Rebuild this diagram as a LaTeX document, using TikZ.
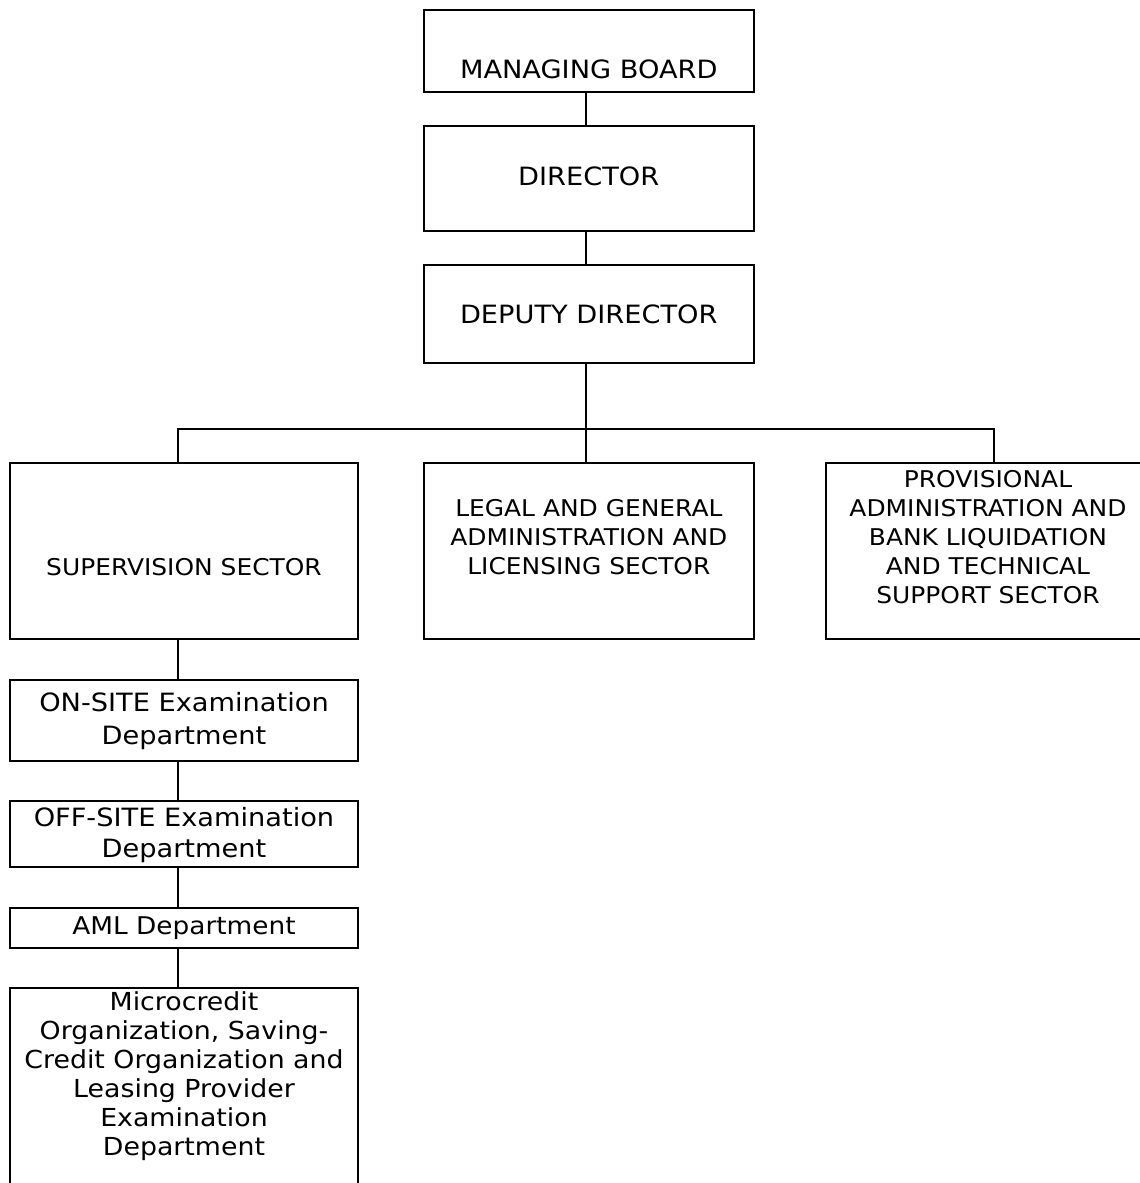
\documentclass[tikz,border=0pt]{standalone}
\usepackage{fontspec}
\setmainfont{DejaVu Sans}[FakeStretch=1.08]
\begin{document}
\begin{tikzpicture}[x=0.75pt,y=-0.75pt,
  box/.style={draw=black,line width=1.5pt,rectangle,inner sep=0pt},
  txt/.style={inner sep=0pt,align=center},
  toptxt/.style={txt,font=\fontsize{18.9}{22}\selectfont},
  sectxt/.style={txt,font=\fontsize{17.3}{21.75}\selectfont},
  deptxt/.style={txt,font=\fontsize{18.6}{21.75}\selectfont},
  link/.style={draw=black,line width=1.5pt}]
\useasboundingbox (0,0) rectangle (1140,1183);
% boxes (centre, size)
\node[box,minimum width=330.5*0.75pt,minimum height=82*0.75pt] (mb) at (588.75,51) {};
\node[box,minimum width=330.5*0.75pt,minimum height=105*0.75pt] (dir) at (588.75,178.5) {};
\node[box,minimum width=330.5*0.75pt,minimum height=98*0.75pt] (dep) at (588.75,314) {};
\node[box,minimum width=348*0.75pt,minimum height=176*0.75pt] (sup) at (184,551) {};
\node[box,minimum width=330.5*0.75pt,minimum height=176*0.75pt] (leg) at (588.85,551) {};
\node[box,minimum width=336*0.75pt,minimum height=176*0.75pt] (prov) at (993.7,551) {};
\node[box,minimum width=348*0.75pt,minimum height=80.7*0.75pt] (on) at (184,720.3) {};
\node[box,minimum width=348*0.75pt,minimum height=66*0.75pt] (off) at (184,834) {};
\node[box,minimum width=348*0.75pt,minimum height=40*0.75pt] (aml) at (184,927.7) {};
\node[box,minimum width=348*0.75pt,minimum height=220*0.75pt] (mic) at (184,1098) {};
% texts
\node[toptxt] (mbt) at (588.75,69) {MANAGING BOARD};
\node[toptxt] (dirt) at (588.75,176) {DIRECTOR};
\node[toptxt] (dept) at (588.75,314) {DEPUTY DIRECTOR};
\node[sectxt] (supt) at (184,567) {SUPERVISION SECTOR};
\node[sectxt] (legt) at (588.85,537) {LEGAL AND GENERAL\\ADMINISTRATION AND\\LICENSING SECTOR};
\node[sectxt] (provt) at (988,537.5) {PROVISIONAL\\ADMINISTRATION AND\\BANK LIQUIDATION\\AND TECHNICAL\\SUPPORT SECTOR};
\node[deptxt,font=\fontsize{18.9}{24.5}\selectfont] (ont) at (184,721) {ON-SITE Examination\\Department};
\node[deptxt,font=\fontsize{18.9}{23.25}\selectfont] (offt) at (184,835) {OFF-SITE Examination\\Department};
\node[deptxt,font=\fontsize{18.3}{21.75}\selectfont] (amlt) at (184,928) {AML Department};
\node[deptxt] (mict) at (184,1076) {Microcredit\\Organization, Saving-\\Credit Organization and\\Leasing Provider\\Examination\\Department};
% connectors
\coordinate (spine) at (586,429);
\coordinate (leftc) at (177.7,429);
\coordinate (rightc) at (993.7,429);
\draw[link] (mb.south -| spine) -- (dir.north -| spine);
\draw[link] (dir.south -| spine) -- (dep.north -| spine);
\draw[link] (dep.south -| spine) -- (leg.north -| spine);
\draw[link] (sup.north -| leftc) -- (leftc) -- (rightc) -- (prov.north -| rightc);
\draw[link] (sup.south -| leftc) -- (on.north -| leftc);
\draw[link] (on.south -| leftc) -- (off.north -| leftc);
\draw[link] (off.south -| leftc) -- (aml.north -| leftc);
\draw[link] (aml.south -| leftc) -- (mic.north -| leftc);
\end{tikzpicture}
\end{document}
